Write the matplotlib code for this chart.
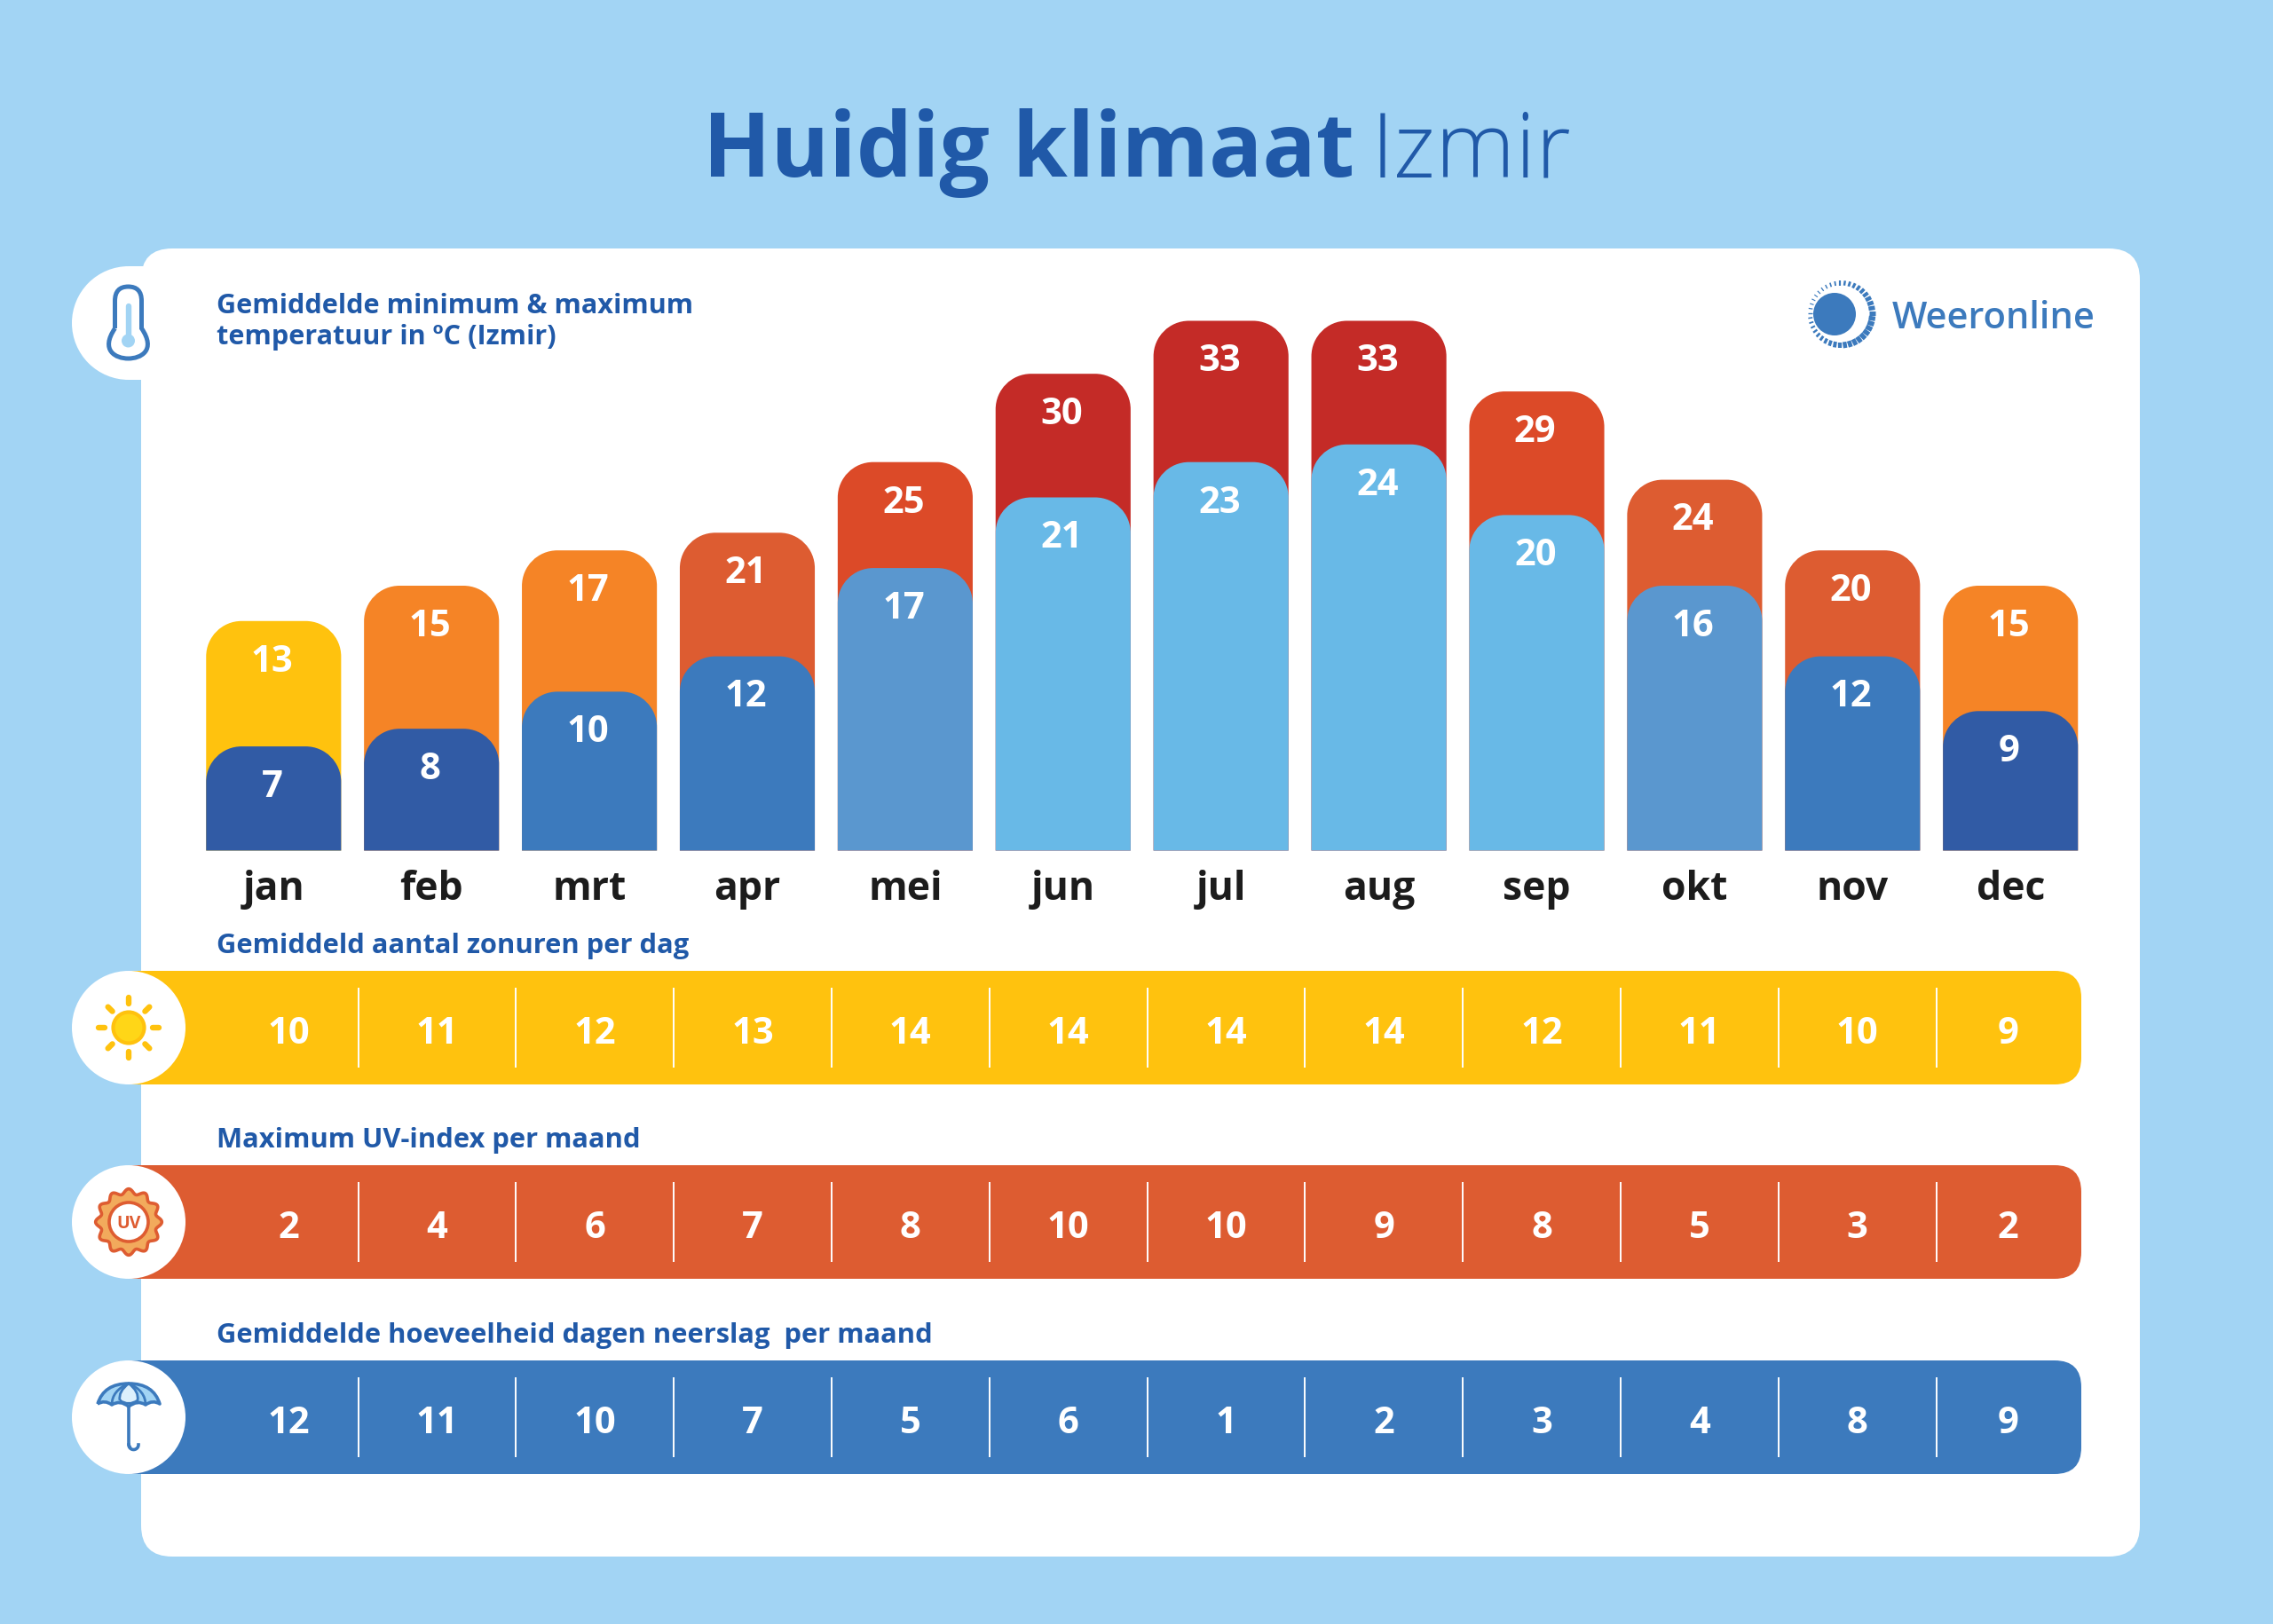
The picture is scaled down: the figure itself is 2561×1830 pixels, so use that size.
import numpy as np
import matplotlib
matplotlib.use("Agg")
import matplotlib.pyplot as plt
from matplotlib.patches import PathPatch, Circle, Rectangle, FancyBboxPatch
from matplotlib.path import Path

plt.rcParams['font.family'] = ['Open Sans', 'DejaVu Sans']

months = ['jan', 'feb', 'mrt', 'apr', 'mei', 'jun', 'jul', 'aug', 'sep', 'okt', 'nov', 'dec']
max_labels = [13, 15, 17, 21, 25, 30, 33, 33, 29, 24, 20, 15]
min_labels = [7, 8, 10, 12, 17, 21, 23, 24, 20, 16, 12, 9]
# drawn bar heights (the infographic does not draw them to the label)
max_heights = [13, 15, 17, 18, 22, 27, 30, 30, 26, 21, 17, 15]
min_heights = [5.9, 6.9, 9, 11, 16, 20, 22, 23, 19, 15, 11, 7.9]
sun_hours = [10, 11, 12, 13, 14, 14, 14, 14, 12, 11, 10, 9]
uv_index = [2, 4, 6, 7, 8, 10, 10, 9, 8, 5, 3, 2]
rain_days = [12, 11, 10, 7, 5, 6, 1, 2, 3, 4, 8, 9]

YEL, ORA, RO1, RO2, RED = '#FFC20E', '#F58426', '#DD5C31', '#DC4A28', '#C42B27'
NAVY, BLUE, MID, SKY = '#315BA5', '#3C7ABD', '#5A97CF', '#68B9E7'
max_colors = [YEL, ORA, ORA, RO1, RO2, RED, RED, RED, RO2, RO1, RO1, ORA]
min_colors = [NAVY, NAVY, BLUE, BLUE, MID, SKY, SKY, SKY, SKY, MID, BLUE, NAVY]
BG = '#A2D4F4'
INK = '#2059A8'

W, H = 2561, 1831
fig = plt.figure(figsize=(W / 100, H / 100), dpi=100, facecolor=BG)

# decoration layer in pixel coordinates
bg = fig.add_axes([0, 0, 1, 1])
bg.set_xlim(0, W)
bg.set_ylim(H, 0)
bg.axis('off')

bg.add_patch(FancyBboxPatch((159 + 35, 281 + 35), 2411 - 159 - 70, 1755 - 281 - 70,
                            boxstyle='round,pad=35,rounding_size=35', fc='white', ec='none'))
strips = [(1095, 1223, YEL), (1314, 1442, RO1), (1534, 1662, BLUE)]
for y0, y1, c in strips:
    bg.add_patch(FancyBboxPatch((160 + 30, y0 + 30), 2345 - 160 - 60, y1 - y0 - 60,
                                boxstyle='round,pad=30,rounding_size=30', fc=c, ec='none'))
    bg.add_patch(Rectangle((145, y0), 80, y1 - y0, fc=c, ec='none'))
    bg.add_patch(Circle((145, (y0 + y1) / 2), 64, fc='white', ec='none', zorder=3))
bg.add_patch(Rectangle((145, 301), 40, 128, fc='white', ec='none'))
bg.add_patch(Circle((145, 365), 64, fc='white', ec='none', zorder=3))

# thermometer icon
tx, r_t = 144.5, 15
verts = [(tx - r_t, 371), (tx - r_t, 340), (tx - r_t, 324), (tx, 324), (tx + r_t, 324), (tx + r_t, 340),
         (tx + r_t, 371), (tx + 32, 396), (tx + 14, 405), (tx, 405), (tx - 14, 405), (tx - 32, 396), (tx - r_t, 371)]
codes = [Path.MOVETO, Path.LINETO, Path.CURVE3, Path.CURVE3, Path.CURVE3, Path.CURVE3,
         Path.LINETO, Path.CURVE4, Path.CURVE4, Path.CURVE4, Path.CURVE4, Path.CURVE4, Path.CURVE4]
bg.add_patch(PathPatch(Path(verts, codes), fc='white', ec=BLUE, lw=3.6, zorder=4))
bg.plot([tx, tx], [346, 385], color=BG, lw=4.6, solid_capstyle='round', zorder=5)
bg.add_patch(Circle((tx, 385), 7.5, fc=BG, ec='none', zorder=5))

# sun icon
sx, sy = 145, 1159
for a in np.arange(0, 360, 45):
    ca, sa = np.cos(np.radians(a)), np.sin(np.radians(a))
    r0, r1 = (27, 34) if a % 90 == 0 else (26, 33)
    bg.plot([sx + r0 * ca, sx + r1 * ca], [sy + r0 * sa, sy + r1 * sa], color=YEL, lw=4.6,
            solid_capstyle='round', zorder=5)
bg.add_patch(Circle((sx, sy), 17.5, fc='#FFD617', ec=YEL, lw=3, zorder=5))

# UV icon
ux, uy = 145, 1378
th = np.linspace(0, 2 * np.pi, 400)
rr = 34.5 + 2.8 * np.cos(12 * th)
bg.add_patch(plt.Polygon(np.c_[ux + rr * np.cos(th), uy + rr * np.sin(th)], closed=True, fc='#F2AA5C', ec='#DE5C31', lw=2.6, zorder=4))
bg.add_patch(Circle((ux, uy), 22, fc='white', ec='#DE5C31', lw=2.6, zorder=5))
bg.text(ux, uy + 0.5, 'UV', color='#DE5C31', fontsize=14, fontweight='bold', ha='center', va='center', zorder=6)

# umbrella icon
cx, cy = 145, 1586
bg.plot([cx, cx, cx + 1], [cy - 1, 1629, 1631], color=BLUE, lw=2.6, zorder=4)
t = np.linspace(0, np.pi, 30)
bg.plot(cx + 5.5 - 5.5 * np.cos(t), 1629 + 5.5 * np.sin(t), color=BLUE, lw=2.6, zorder=4)
can = Path([(cx - 35, cy - 3), (cx - 28, cy - 26), (cx, cy - 26), (cx + 28, cy - 26), (cx + 35, cy - 3),
            (cx + 27, cy - 8), (cx + 19, cy - 2), (cx + 10, cy - 8), (cx, cy), (cx - 10, cy - 8), (cx - 19, cy - 2), (cx - 27, cy - 8), (cx - 35, cy - 3)],
           [Path.MOVETO, Path.CURVE3, Path.CURVE3, Path.CURVE3, Path.CURVE3,
            Path.CURVE3, Path.CURVE3, Path.CURVE3, Path.CURVE3, Path.CURVE3, Path.CURVE3, Path.CURVE3, Path.CURVE3])
bg.add_patch(PathPatch(can, fc=BG, ec=BLUE, lw=2.6, zorder=5, joinstyle='round'))
for pts in ([(cx - 19, cy - 2), (cx - 19, cy - 18), (cx, cy - 26)],
            [(cx + 19, cy - 2), (cx + 19, cy - 18), (cx, cy - 26)]):
    bg.add_patch(PathPatch(Path(pts, [Path.MOVETO, Path.CURVE3, Path.CURVE3]), fc='none', ec=BLUE, lw=2, zorder=6))
for pts in ([(cx - 10, cy - 7), (cx - 12, cy - 17), (cx, cy - 26), (cx + 12, cy - 17), (cx + 10, cy - 7), (cx, cy), (cx - 10, cy - 7)],):
    bg.add_patch(PathPatch(Path(pts, [Path.MOVETO, Path.CURVE3, Path.CURVE3, Path.CURVE3, Path.CURVE3, Path.CURVE3, Path.CURVE3]),
                           fc='#DDF0FC', ec=BLUE, lw=2, zorder=6))

# Weeronline logo
lx, ly = 2067, 355
bg.add_patch(Circle((lx, ly), 24, fc=BLUE, ec='none'))
for a in np.arange(0, 360, 9.0):
    frac = 0.5 + 0.5 * np.cos(np.radians(a - 30))
    ca, sa = np.cos(np.radians(a)), np.sin(np.radians(a))
    r0, r1 = 31 + 2 * frac, 35.5 + 5 * frac
    ox, oy = 6, -1
    bg.plot([lx + ox + r0 * ca, lx + ox + r1 * ca], [ly + oy + r0 * sa, ly + oy + r1 * sa],
            color=BLUE, lw=0.8 + 3.0 * frac, solid_capstyle='butt')
bg.text(2132, 359, 'Weeronline', color=BLUE, fontsize=30, fontweight='semibold', va='center', ha='left')

# title
bg.text(792, 199, 'Huidig klimaat', color=INK, fontsize=72, fontweight='bold', ha='left', va='baseline')
bg.text(1545, 199, 'Izmir', color=INK, fontsize=73.5, fontweight='light', ha='left', va='baseline')

# section headers
head = dict(color=INK, fontsize=22.1, fontweight='bold', ha='left', va='center')
bg.text(244, 345, 'Gemiddelde minimum & maximum', **head)
bg.text(244, 380, 'temperatuur in ºC (Izmir)', **head)
head['fontsize'] = 22.25
bg.text(244, 1066, 'Gemiddeld aantal zonuren per dag', **head)
bg.text(244, 1285, 'Maximum UV-index per maand', **head)
bg.text(244, 1505, 'Gemiddelde hoeveelheid dagen neerslag  per maand', **head)

# temperature bars
x0_px, step, base_px, unit_px = 308.3, 177.9, 959.5, 19.9
left = x0_px - step / 2
ax = fig.add_axes([left / W, (H - base_px) / H, 12 * step / W, 33 * unit_px / H])
ax.patch.set_alpha(0)
ax.set_xlim(-0.5, 11.5)
ax.set_ylim(0, 33)
for s in ax.spines.values():
    s.set_visible(False)
ax.set_yticks([])
ax.set_xticks(range(12), months)
ax.tick_params(axis='x', length=0, pad=14.5)
for lab in ax.get_xticklabels():
    lab.set_fontsize(32)
    lab.set_fontweight('bold')
    lab.set_color('#1C1C1C')

BW = 0.855
RX, RY = 40 / step, 40 / unit_px
K = 0.5523

def round_bar(i, h, color, z):
    l, r = i - BW / 2, i + BW / 2
    v = [(l, 0), (l, h - RY), (l, h - RY + K * RY), (l + RX - K * RX, h), (l + RX, h),
         (r - RX, h), (r - RX + K * RX, h), (r, h - RY + K * RY), (r, h - RY), (r, 0), (l, 0)]
    c = [Path.MOVETO, Path.LINETO, Path.CURVE4, Path.CURVE4, Path.CURVE4,
         Path.LINETO, Path.CURVE4, Path.CURVE4, Path.CURVE4, Path.LINETO, Path.CLOSEPOLY]
    ax.add_patch(PathPatch(Path(v, c), fc=color, ec='none', zorder=z))

val = dict(color='white', fontsize=30, fontweight='bold', ha='center', va='center', zorder=5, clip_on=False)
for i in range(12):
    round_bar(i, max_heights[i], max_colors[i], 2)
    round_bar(i, min_heights[i], min_colors[i], 3)
    ax.text(i - 0.01, max_heights[i] - 2.28, str(max_labels[i]), **val)
    ax.text(i - 0.01, min_heights[i] - 2.28, str(min_labels[i]), **val)

# value strips, on a month axis
strip_step = 177.8
sleft = 307.5 - strip_step / 2
seps = np.arange(1, 12) - 0.5 + 0.04
cells = np.r_[0.1, (seps[:-1] + seps[1:]) / 2, 10.995]
for (y0, y1, c), vals in zip(strips, (sun_hours, uv_index, rain_days)):
    sa = fig.add_axes([sleft / W, (H - y1) / H, 12 * strip_step / W, (y1 - y0) / H])
    sa.patch.set_alpha(0)
    sa.axis('off')
    sa.set_xlim(-0.5, 11.5)
    sa.set_ylim(0, 1)
    sa.vlines(seps, 0.15, 0.85, color='white', lw=1.4)
    for xc, v in zip(cells, vals):
        sa.text(xc, 0.45, str(v), color='white', fontsize=30, fontweight='bold', ha='center', va='center')

fig.savefig('out.png', dpi=100, facecolor=BG)
